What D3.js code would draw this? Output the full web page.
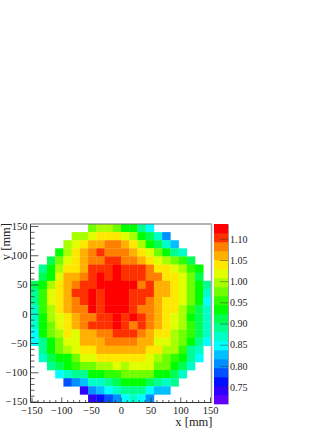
<!DOCTYPE html>
<html>
<head>
<meta charset="utf-8">
<script src="https://d3js.org/d3.v7.min.js"></script>
<style>
    html, body { margin: 0; padding: 0; background: #fff; }
    svg { display: block; }
    text { font-family: "Liberation Serif", serif; fill: #222; }
</style>
</head>
<body>
<svg id="chart" width="332" height="430"></svg>
<script>
var _ = null;

// map values, top row first, 22 x 22 bins
var row01 = [_,_,_,_,_,_,_,.98,1.00,1.00,.98,.93,.93,.89,.85,_,_,_,_,_,_,_];
var row02 = [_,_,_,_,_,1.00,1.00,1.02,1.04,1.04,1.04,1.02,1.00,.93,.91,.87,.81,_,_,_,_,_];
var row03 = [_,_,_,_,1.00,1.02,1.04,1.06,1.06,1.08,1.08,1.06,1.04,1.00,.93,.91,.87,.83,_,_,_,_];
var row04 = [_,_,_,.93,1.00,1.04,1.06,1.08,1.10,1.08,1.08,1.08,1.06,1.04,1.02,.98,.93,.89,.87,_,_,_];
var row05 = [_,_,.91,.98,1.02,1.04,1.06,1.08,1.08,1.10,1.10,1.08,1.08,1.06,1.04,1.02,1.00,.98,.95,.91,_,_];
var row06 = [_,.89,.93,1.00,1.04,1.04,1.06,1.10,1.10,1.10,1.12,1.10,1.10,1.10,1.08,1.04,1.04,1.02,1.00,.95,.93,_];
var row07 = [_,.91,.93,1.02,1.06,1.06,1.08,1.10,1.12,1.10,1.12,1.10,1.10,1.10,1.08,1.08,1.04,1.04,1.02,.98,.91,_];
var row08 = [.91,.93,1.00,1.04,1.06,1.08,1.10,1.10,1.12,1.12,1.12,1.12,1.12,1.08,1.10,1.06,1.06,1.04,1.02,.98,.93,.89];
var row09 = [.89,.95,1.02,1.04,1.06,1.10,1.10,1.12,1.10,1.12,1.12,1.12,1.10,1.10,1.10,1.06,1.06,1.04,1.02,.98,.93,.87];
var row10 = [.89,.95,1.02,1.04,1.06,1.08,1.10,1.12,1.10,1.12,1.12,1.12,1.10,1.10,1.08,1.06,1.04,1.04,1.02,.98,.93,.85];
var row11 = [.87,.95,1.00,1.04,1.06,1.08,1.08,1.12,1.10,1.12,1.12,1.12,1.10,1.08,1.08,1.06,1.04,1.04,1.00,.95,.91,.87];
var row12 = [.87,.93,1.00,1.02,1.04,1.06,1.08,1.08,1.10,1.10,1.12,1.10,1.12,1.10,1.08,1.06,1.04,1.02,1.00,.93,.91,.87];
var row13 = [.87,.93,.98,1.02,1.04,1.06,1.08,1.10,1.10,1.10,1.12,1.10,1.08,1.10,1.08,1.06,1.04,1.02,1.00,.95,.91,.87];
var row14 = [.85,.93,.98,1.00,1.04,1.02,1.06,1.06,1.08,1.08,1.10,1.10,1.10,1.08,1.06,1.04,1.04,1.00,.98,.95,.91,.87];
var row15 = [.85,.89,.93,.98,1.02,1.02,1.06,1.06,1.06,1.08,1.08,1.08,1.08,1.06,1.06,1.02,1.02,1.00,.98,.93,.89,.85];
var row16 = [_,.89,.93,.98,1.00,1.02,1.04,1.04,1.06,1.06,1.06,1.06,1.06,1.06,1.04,1.04,1.00,1.00,.95,.89,.87,_];
var row17 = [_,.87,.91,.93,.93,.98,1.02,1.02,1.04,1.04,1.04,1.04,1.04,1.04,1.02,1.00,.98,.95,.93,.89,.85,_];
var row18 = [_,_,.89,.91,.93,.95,.98,.98,1.00,1.00,1.02,1.00,1.02,1.02,1.02,.98,.98,.93,.91,.87,_,_];
var row19 = [_,_,_,.85,.87,.89,.89,.93,.93,.95,.95,.98,.98,.98,.98,.93,.93,.91,.87,_,_,_];
var row20 = [_,_,_,_,.78,.81,.83,.87,.87,.89,.91,.93,.93,.93,.91,.89,.87,.89,_,_,_,_];
var row21 = [_,_,_,_,_,_,.74,.81,.83,.85,.87,.89,.89,.89,.85,.83,.83,_,_,_,_,_];
var row22 = [_,_,_,_,_,_,_,.74,.76,.78,.81,.85,.87,.85,.81,_,_,_,_,_,_,_];
var mapRows = [row01,row02,row03,row04,row05,row06,row07,row08,row09,row10,row11,
               row12,row13,row14,row15,row16,row17,row18,row19,row20,row21,row22];

// palette of the z scale, lowest band first
var zColors = ['#6000ff','#3000ff','#0010ff','#0050ff','#0090ff','#00c0ff','#00ffff','#00ffc8','#00ff90','#00ff50',
               '#00ff00','#30ff00','#70ff00','#a8ff00','#e0ff00','#ffe800','#ffb000','#ff8000','#ff3000','#ff0000'];
var zRange = [0.71, 1.135];
var zTicks = [0.75, 0.80, 0.85, 0.90, 0.95, 1.00, 1.05, 1.10];
var axisTicks = [-150, -100, -50, 0, 50, 100, 150];
var minorTicks = [-140,-130,-120,-110,-90,-80,-70,-60,-40,-30,-20,-10,10,20,30,40,60,70,80,90,110,120,130,140];

var svg = d3.select('#chart');

var frame = {left: 30.5, right: 211.5, top: 224, bottom: 402.5};

var xBins = d3.scaleBand().domain(d3.range(22)).range([frame.left, frame.right]);
var yBins = d3.scaleBand().domain(d3.range(22)).range([frame.top, frame.bottom]);
var x = d3.scaleLinear().domain([-150, 150]).range([31.5, 210]);
var y = d3.scaleLinear().domain([-150, 150]).range([401.5, 226]);
var z = d3.scaleLinear().domain(zRange).range([404, 224]);
var zColor = d3.scaleQuantize().domain(zRange).range(zColors);

// draw the cells
svg.append('g').attr('class', 'cells')
    .selectAll('g')
    .data(mapRows)
    .join('g')
    .attr('transform', function (d, i) { return 'translate(0,' + yBins(i) + ')'; })
    .selectAll('rect')
    .data(function (d) { return d.map(function (v, c) { return {v: v, c: c}; }).filter(function (e) { return e.v !== null; }); })
    .join('rect')
    .attr('x', function (d) { return xBins(d.c); })
    .attr('width', xBins.bandwidth() + 0.3)
    .attr('height', yBins.bandwidth() + 0.3)
    .attr('fill', function (d) { return zColor(d.v); });

// frame, the right side comes out lighter and the top a bit grey
function frameLine(x1, y1, x2, y2, color, w) {
    svg.append('line').attr('x1', x1).attr('y1', y1).attr('x2', x2).attr('y2', y2)
        .attr('stroke', color).attr('stroke-width', w);
}
frameLine(frame.left, frame.top, frame.right, frame.top, '#666', 1);
frameLine(frame.right, frame.top, frame.right, frame.bottom, '#aaa', 1.5);

// axes: ticks point into the plot
function styleAxis(g) {
    g.selectAll('.domain').attr('stroke', '#333');
    g.selectAll('.tick line').attr('stroke', '#333').attr('stroke-width', 0.8);
    g.selectAll('text').style('font-size', '10.5px').attr('fill', '#222');
}

svg.append('g')
    .attr('transform', 'translate(0,' + frame.bottom + ')')
    .call(d3.axisBottom(x).tickValues(minorTicks).tickSize(-2.5).tickFormat(''))
    .call(styleAxis)
    .select('.domain').remove();
svg.append('g')
    .attr('transform', 'translate(0,' + frame.bottom + ')')
    .call(d3.axisBottom(x).tickValues(axisTicks).tickSizeInner(-5).tickSizeOuter(0).tickPadding(4).tickFormat(d3.format('d')))
    .call(styleAxis)
    .select('.domain').attr('d', 'M' + frame.left + ',0H' + frame.right);

svg.append('g')
    .attr('transform', 'translate(' + frame.left + ',0)')
    .call(d3.axisLeft(y).tickValues(minorTicks).tickSize(-4).tickFormat(''))
    .call(styleAxis)
    .select('.domain').remove();
svg.append('g')
    .attr('transform', 'translate(' + frame.left + ',0)')
    .call(d3.axisLeft(y).tickValues(axisTicks).tickSizeInner(-8).tickSizeOuter(0).tickPadding(3).tickFormat(d3.format('d')))
    .call(styleAxis)
    .select('.domain').attr('d', 'M0,' + frame.top + 'V' + frame.bottom);

// axis titles
svg.append('text')
    .attr('x', frame.right + 1)
    .attr('y', 426)
    .attr('text-anchor', 'end')
    .style('font-size', '12.5px')
    .text('x [mm]');
svg.append('text')
    .attr('transform', 'translate(10,' + (frame.top - 1) + ') rotate(-90)')
    .attr('text-anchor', 'end')
    .style('font-size', '12.5px')
    .text('y [mm]');

// colour bar
var bandEdges = zColor.thresholds();
var bands = zColors.map(function (c, i) {
    return {
        color: c,
        lo: i === 0 ? zRange[0] : bandEdges[i - 1],
        hi: i === zColors.length - 1 ? zRange[1] : bandEdges[i]
    };
});
svg.append('g').attr('class', 'palette')
    .selectAll('rect')
    .data(bands)
    .join('rect')
    .attr('x', 214)
    .attr('width', 14)
    .attr('y', function (d) { return z(d.hi); })
    .attr('height', function (d) { return z(d.lo) - z(d.hi) + 0.3; })
    .attr('fill', function (d) { return d.color; });

var zAxis = svg.append('g')
    .attr('transform', 'translate(228,0)')
    .call(d3.axisRight(z).tickValues(zTicks).tickSizeInner(-8).tickSizeOuter(0).tickPadding(2).tickFormat(d3.format('.2f')))
    .call(styleAxis);
zAxis.select('.domain').attr('stroke', '#555').attr('stroke-width', 0.6);
zAxis.selectAll('.tick line').attr('stroke', '#333').attr('stroke-opacity', 0.6);
zAxis.selectAll('text').style('font-size', '10px');
</script>
</body>
</html>
